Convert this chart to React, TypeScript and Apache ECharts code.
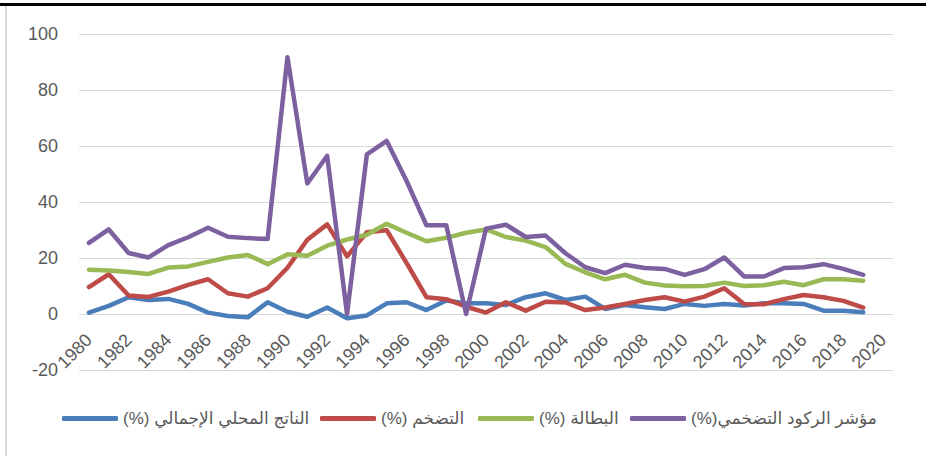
import { useEffect, useRef } from "react";
import * as echarts from "echarts";

const years = [
  "1980", "1981", "1982", "1983", "1984", "1985", "1986", "1987", "1988", "1989",
  "1990", "1991", "1992", "1993", "1994", "1995", "1996", "1997", "1998", "1999",
  "2000", "2001", "2002", "2003", "2004", "2005", "2006", "2007", "2008", "2009",
  "2010", "2011", "2012", "2013", "2014", "2015", "2016", "2017", "2018", "2019",
  "2020",
];

const gdp = [
  0.5, 2.9, 6.0, 5.0, 5.4, 3.6, 0.5, -0.7, -1.2, 4.2,
  0.8, -1.0, 2.3, -1.5, -0.5, 3.8, 4.2, 1.4, 4.8, 3.8,
  3.8, 3.2, 6.0, 7.4, 5.0, 6.2, 1.8, 3.2, 2.4, 1.8,
  3.6, 2.9, 3.6, 3.0, 3.8, 3.8, 3.6, 1.2, 1.2, 0.6,
  null,
];

const inflation = [
  9.6, 14.2, 6.6, 6.1, 8.0, 10.4, 12.4, 7.4, 6.2, 9.2,
  16.5, 26.5, 32.0, 20.6, 29.2, 29.9, 18.2, 6.0, 5.3, 2.6,
  0.5, 4.2, 1.2, 4.4, 4.1, 1.4, 2.3, 3.6, 5.0, 6.0,
  4.4, 6.2, 9.2, 3.6, 3.5, 5.3, 6.8, 6.0, 4.7, 2.3,
  null,
];

const unemployment = [
  15.8, 15.5, 15.0, 14.3, 16.6, 17.0, 18.6, 20.2, 21.1, 17.8,
  21.3, 20.8, 24.4, 26.6, 28.3, 32.2, 29.0, 26.0, 27.2, 29.0,
  30.2, 27.5, 26.2, 23.9, 17.9, 14.9, 12.4, 14.0, 11.2, 10.2,
  9.9, 10.0, 11.2, 10.0, 10.3, 11.5, 10.3, 12.4, 12.4, 11.9,
  null,
];

const stagflation = [
  25.4, 30.2, 21.8, 20.2, 24.6, 27.4, 30.8, 27.6, 27.1, 26.8,
  91.7, 46.6, 56.5, 0.0, 57.0, 61.8, 47.5, 31.7, 31.7, 0.0,
  30.5, 31.9, 27.5, 28.0, 21.7, 16.7, 14.6, 17.6, 16.4, 16.1,
  14.0, 16.0, 20.2, 13.4, 13.4, 16.4, 16.7, 17.8, 16.1, 14.0,
  null,
];

const RLM = "\u200F";
const seriesNames = [
  "الناتج المحلي الإجمالي (%)" + RLM,
  "التضخم (%)" + RLM,
  "البطالة (%)" + RLM,
  "مؤشر الركود التضخمي(%)" + RLM,
];
const seriesColors = ["#4a7ebb", "#be4b48", "#98b954", "#7d60a0"];
const seriesData = [gdp, inflation, unemployment, stagflation];
const legendLeft = [57, 315, 473, 625];

const FONT = "'Liberation Sans', Arial, 'DejaVu Sans', sans-serif";

export default function App() {
  const ref = useRef<HTMLDivElement>(null);
  useEffect(() => {
    const chart = echarts.init(ref.current!, null, { renderer: "svg" });
    chart.setOption({
      animation: false,
      backgroundColor: "#ffffff",
      textStyle: { fontFamily: FONT },
      grid: { left: 79, right: 33, top: 34, bottom: 86, containLabel: false },
      xAxis: {
        type: "category",
        data: years,
        boundaryGap: true,
        offset: -56,
        axisLine: { show: false, onZero: false },
        axisTick: { show: false },
        axisLabel: {
          interval: 1,
          rotate: 45,
          fontSize: 18,
          color: "#595959",
          fontFamily: FONT,
          margin: 23,
        },
        splitLine: { show: false },
      },
      yAxis: {
        type: "value",
        min: -20,
        max: 100,
        interval: 20,
        axisLine: { show: false },
        axisTick: { show: false },
        axisLabel: { fontSize: 18, color: "#595959", fontFamily: FONT, margin: 21 },
        splitLine: { lineStyle: { color: "#d9d9d9", width: 1 } },
      },
      legend: seriesNames.map((name, i) => ({
        left: legendLeft[i],
        top: 405,
        icon: "roundRect",
        itemWidth: 56,
        itemHeight: 5,
        textStyle: { fontSize: 17, color: "#595959", fontFamily: FONT },
        data: [name],
      })),
      series: seriesNames.map((name, i) => ({
        name,
        type: "line",
        data: seriesData[i],
        symbol: "none",
        color: seriesColors[i],
        lineStyle: { width: 4.5, color: seriesColors[i], cap: "round", join: "round" },
        connectNulls: false,
      })),
      graphic: [
        { type: "rect", left: 0, top: 3, shape: { width: 926, height: 3 }, style: { fill: "#000000" } },
        { type: "rect", left: 5, top: 6, shape: { width: 2, height: 450 }, style: { fill: "#d9d9d9" } },
      ],
    });
    return () => chart.dispose();
  }, []);
  return (
    <div
      ref={ref}
      style={{ position: "absolute", left: 0, top: 0, width: 926, height: 456, background: "#fff" }}
    />
  );
}
